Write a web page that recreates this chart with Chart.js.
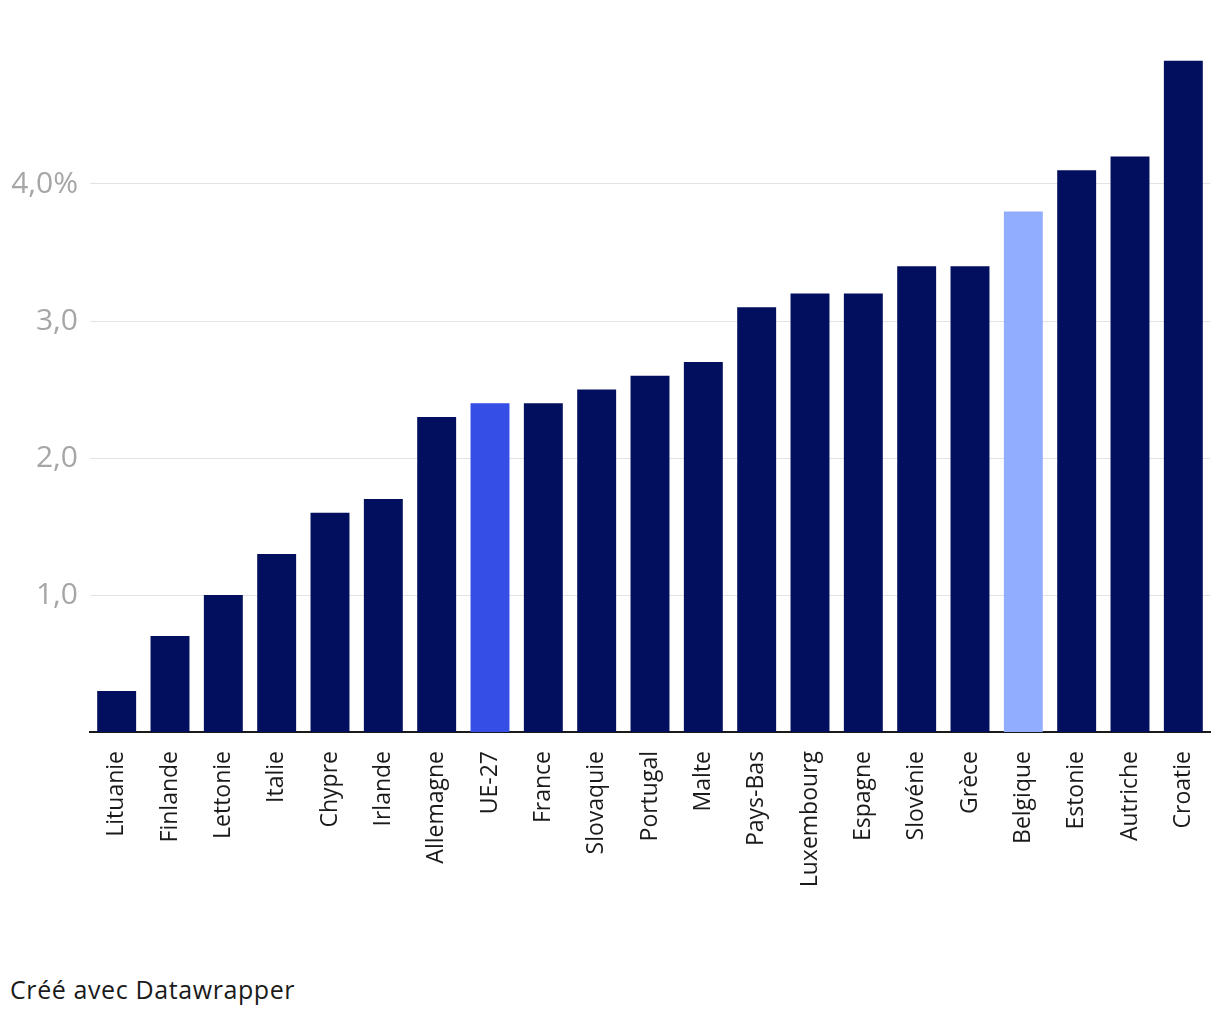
<!DOCTYPE html>
<html>
<head>
<meta charset="utf-8">
<script src="https://cdn.jsdelivr.net/npm/chart.js@4"></script>
<style>
  html, body { margin: 0; padding: 0; background: #fff; }
  body { width: 1220px; height: 1016px; position: relative; overflow: hidden; font-family: "Open Sans", Lato, sans-serif; }
  #wrap { position: absolute; left: 0; top: 0; width: 1220px; height: 900px; }
  #credit { position: absolute; left: 10px; top: 972px; font-size: 25px; letter-spacing: 0.6px; color: #1a1a1a; font-family: "Open Sans", Lato, sans-serif; line-height: 34px; }
</style>
</head>
<body>
<div id="wrap"><canvas id="c"></canvas></div>
<div id="credit">Créé avec Datawrapper</div>
<script>
const categories = ["Lituanie","Finlande","Lettonie","Italie","Chypre","Irlande","Allemagne","UE-27","France","Slovaquie","Portugal","Malte","Pays-Bas","Luxembourg","Espagne","Slovénie","Grèce","Belgique","Estonie","Autriche","Croatie"];
const values = [0.3,0.7,1.0,1.3,1.6,1.7,2.3,2.4,2.4,2.5,2.6,2.7,3.1,3.2,3.2,3.4,3.4,3.8,4.1,4.2,4.9];
const tickValues = [1,2,3,4];
const tickLabels = ["1,0","2,0","3,0","4,0%"];
const highlight = { "UE-27": "#344ee6", "Belgique": "#91adff" };
const baseColor = "#020f5e";

const colors = categories.map(c => highlight[c] || baseColor);
const FONT = '"Open Sans", Lato, sans-serif';

new Chart(document.getElementById('c'), {
  type: 'bar',
  data: {
    labels: categories,
    datasets: [{ data: values, backgroundColor: colors, borderWidth: 0, categoryPercentage: 1, barPercentage: 0.73 }]
  },
  options: {
    responsive: true,
    maintainAspectRatio: false,
    animation: false,
    layout: { padding: { left: 0, right: 10, top: 47, bottom: 0 } },
    plugins: { legend: { display: false }, tooltip: { enabled: false } },
    scales: {
      x: {
        afterFit: (s) => { s.height = 168; s.paddingLeft = 0; s.paddingRight = 0; },
        grid: { display: false, drawTicks: false },
        border: { display: true, color: '#1a1a1a', width: 2 },
        ticks: { minRotation: 90, maxRotation: 90, autoSkip: false, padding: 19, color: '#1a1a1a', font: { family: FONT, size: 23 } }
      },
      y: {
        min: 0, max: 5,
        afterBuildTicks: (s) => { s.ticks = tickValues.map(v => ({ value: v })); },
        afterFit: (s) => { s.width = 90; },
        grid: { color: '#e3e3e3', lineWidth: 1, drawTicks: false },
        border: { display: false },
        ticks: {
          padding: 12, color: '#a6a6a6',
          font: { family: FONT, size: 30 },
          callback: (v) => { const i = tickValues.indexOf(v); return i >= 0 ? tickLabels[i] : ''; }
        }
      }
    }
  }
});
</script>
</body>
</html>
